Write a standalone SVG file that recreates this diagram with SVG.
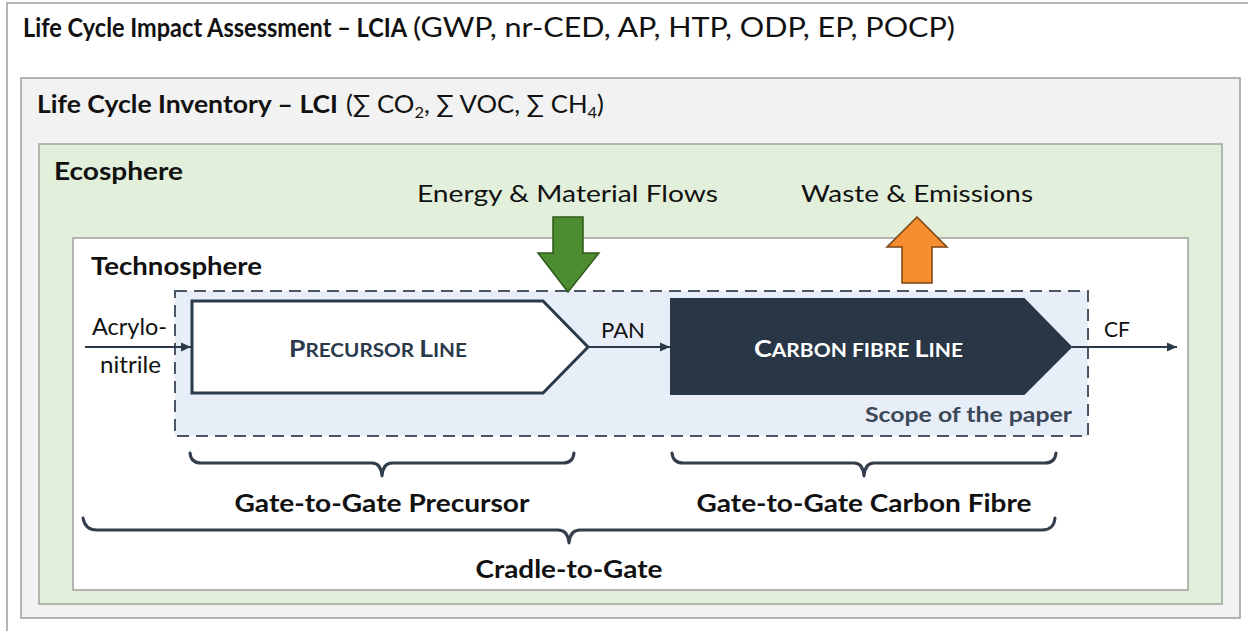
<svg xmlns="http://www.w3.org/2000/svg" width="1248" height="631" viewBox="0 0 1248 631">
  <style>
    text { font-family: Lato, "Open Sans", "Liberation Sans", sans-serif; fill: #111; }
    .b { font-weight: bold; }
    .frame { stroke: #a3a3a3; stroke-width: 1.6; }
    .line { stroke: #2b3a4a; stroke-width: 2; fill: none; }
    .brace { stroke: #333e4c; stroke-width: 3; fill: none; stroke-linecap: round; stroke-linejoin: round; }
  </style>
  <defs>
    <marker id="arrow" viewBox="0 0 10 10" refX="10" refY="5" markerWidth="10" markerHeight="10" markerUnits="userSpaceOnUse" orient="auto">
      <path d="M0,0.5 L10,5 L0,9.5 z" fill="#2b3a4a"/>
    </marker>
  </defs>

  <!-- nested frames -->
  <g id="lcia">
    <rect x="7" y="3" width="1260" height="650" fill="#ffffff" class="frame"/>
    <text x="23" y="37" font-size="26" class="b" textLength="384" lengthAdjust="spacingAndGlyphs">Life Cycle Impact Assessment – LCIA</text>
    <text x="413" y="37" font-size="26" textLength="542" lengthAdjust="spacingAndGlyphs">(GWP, nr-CED, AP, HTP, ODP, EP, POCP)</text>
  </g>
  <g id="lci">
    <rect x="21" y="78" width="1219" height="540" fill="#f2f2f2" class="frame"/>
    <text x="37" y="113" font-size="25" class="b" textLength="301" lengthAdjust="spacingAndGlyphs">Life Cycle Inventory – LCI</text>
    <text x="346" y="113" font-size="25" textLength="258" lengthAdjust="spacingAndGlyphs">(∑ CO<tspan font-size="16" dy="5">2</tspan><tspan dy="-5">, ∑ VOC, ∑ CH</tspan><tspan font-size="16" dy="5">4</tspan><tspan dy="-5">)</tspan></text>
  </g>
  <g id="ecosphere">
    <rect x="39" y="144" width="1183" height="460" fill="#e2efda" stroke="#a2ab9e" stroke-width="1.6"/>
    <text x="54" y="180" font-size="24" class="b" textLength="129" lengthAdjust="spacingAndGlyphs">Ecosphere</text>
    <text x="417" y="202" font-size="23" textLength="301" lengthAdjust="spacingAndGlyphs">Energy &amp; Material Flows</text>
    <text x="801" y="202" font-size="23" textLength="232" lengthAdjust="spacingAndGlyphs">Waste &amp; Emissions</text>
  </g>
  <g id="technosphere">
    <rect x="73" y="238" width="1115" height="352" fill="#ffffff" class="frame"/>
    <text x="91" y="275" font-size="24" class="b" textLength="171" lengthAdjust="spacingAndGlyphs">Technosphere</text>
  </g>

  <!-- scope of the paper -->
  <g id="scope">
    <rect x="175" y="291" width="913" height="145" fill="#e8eef8" stroke="#4a5663" stroke-width="2" stroke-dasharray="12 7"/>
    <text x="1072" y="422" font-size="20" class="b" text-anchor="end" style="fill:#3a4858" textLength="207" lengthAdjust="spacingAndGlyphs">Scope of the paper</text>
  </g>

  <!-- inflow / outflow arrows -->
  <g id="energy-arrow">
    <path d="M553,217 L583,217 L583,253 L599,253 L568,292 L538,253 L553,253 z" fill="#4d8c31" stroke="#2d5a1b" stroke-width="1.5"/>
  </g>
  <g id="waste-arrow">
    <path d="M917,217 L947,247 L932,247 L932,283 L902,283 L902,247 L887,247 z" fill="#f68d2e" stroke="#7a4213" stroke-width="1.5"/>
  </g>

  <!-- process lines -->
  <g id="precursor-line">
    <path d="M192,301 L543,301 L588,347 L543,393 L192,393 z" fill="#ffffff" stroke="#2b3a4a" stroke-width="3"/>
    <text x="289" y="357" class="b" style="fill:#2b3a4a" textLength="178" lengthAdjust="spacingAndGlyphs"><tspan font-size="23">P</tspan><tspan font-size="18">RECURSOR </tspan><tspan font-size="23">L</tspan><tspan font-size="18">INE</tspan></text>
  </g>
  <g id="carbon-fibre-line">
    <path d="M671,299 L1024,299 L1071,347 L1024,394 L671,394 z" fill="#283646" stroke="#283646" stroke-width="2"/>
    <text x="754" y="357" class="b" style="fill:#ffffff" textLength="209" lengthAdjust="spacingAndGlyphs"><tspan font-size="23">C</tspan><tspan font-size="18">ARBON FIBRE </tspan><tspan font-size="23">L</tspan><tspan font-size="18">INE</tspan></text>
  </g>

  <!-- material flow connectors -->
  <g id="connectors">
    <line x1="85" y1="347" x2="191" y2="347" class="line" marker-end="url(#arrow)"/>
    <line x1="589" y1="347" x2="670" y2="347" class="line" marker-end="url(#arrow)"/>
    <line x1="1072" y1="347" x2="1177" y2="347" class="line" marker-end="url(#arrow)"/>
    <text x="92" y="335" font-size="23" textLength="75" lengthAdjust="spacingAndGlyphs">Acrylo-</text>
    <text x="100" y="373" font-size="23" textLength="61" lengthAdjust="spacingAndGlyphs">nitrile</text>
    <text x="601" y="338" font-size="22" textLength="44" lengthAdjust="spacingAndGlyphs">PAN</text>
    <text x="1104" y="337" font-size="22" textLength="26" lengthAdjust="spacingAndGlyphs">CF</text>
  </g>

  <!-- system boundaries -->
  <g id="gate-precursor">
    <path d="M190,453 Q191,463 201,463 L372,463 Q381,463 382,476 Q383,463 392,463 L563,463 Q573,463 574,453" class="brace"/>
    <text x="382" y="512" font-size="24" class="b" text-anchor="middle" textLength="295" lengthAdjust="spacingAndGlyphs">Gate-to-Gate Precursor</text>
  </g>
  <g id="gate-carbon-fibre">
    <path d="M672,453 Q673,463 683,463 L854,463 Q863,463 864,476 Q865,463 874,463 L1045,463 Q1055,463 1056,453" class="brace"/>
    <text x="864" y="512" font-size="24" class="b" text-anchor="middle" textLength="335" lengthAdjust="spacingAndGlyphs">Gate-to-Gate Carbon Fibre</text>
  </g>
  <g id="cradle-to-gate">
    <path d="M83,518 Q85,530 97,530 L558,530 Q568,530 569,543 Q570,530 580,530 L1042,530 Q1054,530 1055,518" class="brace"/>
    <text x="569" y="578" font-size="24" class="b" text-anchor="middle" textLength="187" lengthAdjust="spacingAndGlyphs">Cradle-to-Gate</text>
  </g>
</svg>
